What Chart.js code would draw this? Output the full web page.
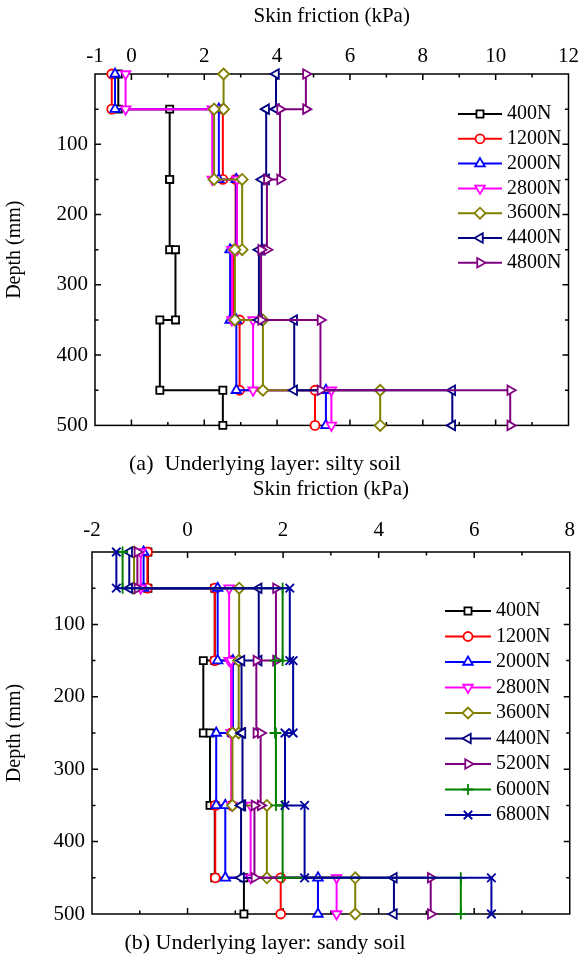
<!doctype html>
<html lang="en">
<head>
<meta charset="utf-8">
<title>Skin friction profiles</title>
<script src="https://cdn.jsdelivr.net/npm/chart.js"></script>
<style>
  body { margin: 0; background: #fff; width: 584px; height: 970px; position: relative; overflow: hidden; }
  canvas { position: absolute; left: 0; }
  #chartA { top: 0; }
  #chartB { top: 470px; }
  .caption { position: absolute; left: 0; width: 530px; text-align: center; color: #000;
             font-family: 'Liberation Serif', 'Times New Roman', serif; font-size: 22px; line-height: 22px; }
</style>
</head>
<body>
<canvas id="chartA" width="584" height="445"></canvas>
<canvas id="chartB" width="584" height="500"></canvas>
<div class="caption" style="top:452px">(a)&nbsp; Underlying layer: silty soil</div>
<div class="caption" style="top:931px">(b) Underlying layer: sandy soil</div>

<script>
  Chart.defaults.font.family = "'Liberation Serif', 'Times New Roman', serif";
  Chart.defaults.color = '#000';

  // depth intervals (mm) of the measured layers
  const depthTop    = [0, 50, 150, 250, 350, 450];
  const depthBottom = [50, 150, 250, 350, 450, 500];

  // (a) silty soil, skin friction (kPa) per layer
  const loadsSilty = ['400N', '1200N', '2000N', '2800N', '3600N', '4400N', '4800N'];
  const silty400N  = [-0.36, 1.05, 1.05, 1.21, 0.78, 2.51];
  const silty1200N = [-0.54, 2.51, 2.86, 2.80, 2.97, 5.04];
  const silty2000N = [-0.45, 2.40, 2.88, 2.71, 2.88, 5.34];
  const silty2800N = [-0.16, 2.22, 2.90, 2.76, 3.34, 5.49];
  const silty3600N = [2.53, 2.27, 3.04, 2.84, 3.61, 6.83];
  const silty4400N = [3.97, 3.70, 3.58, 3.50, 4.47, 8.81];
  const silty4800N = [4.79, 4.08, 3.72, 3.56, 5.19, 10.40];

  // (b) sandy soil
  const loadsSandy = ['400N', '1200N', '2000N', '2800N', '3600N', '4400N', '5200N', '6000N', '6800N'];
  const sandy400N  = [-0.83, 0.57, 0.33, 0.47, 0.57, 1.18];
  const sandy1200N = [-0.84, 0.57, 0.92, 0.92, 0.58, 1.95];
  const sandy2000N = [-0.92, 0.63, 0.95, 0.60, 0.79, 2.73];
  const sandy2800N = [-0.98, 0.87, 0.91, 0.93, 1.32, 3.12];
  const sandy3600N = [-1.12, 1.08, 1.07, 0.94, 1.66, 3.51];
  const sandy4400N = [-1.22, 1.49, 1.13, 1.15, 1.12, 4.32];
  const sandy5200N = [-1.05, 1.85, 1.44, 1.53, 1.40, 5.09];
  const sandy6000N = [-1.36, 1.99, 1.83, 1.85, 1.99, 5.72];
  const sandy6800N = [-1.49, 2.14, 2.21, 2.04, 2.45, 6.36];

  const xTicksSilty = [-1, 0, 2, 4, 6, 8, 10, 12];
  const xTicksSandy = [-2, 0, 2, 4, 6, 8];
  const depthTicks  = [100, 200, 300, 400, 500];

  // marker + colour per load
  const seriesStyle = {
    '400N':  { color: '#000000', pointStyle: 'rect',     rotation: 0,   radius: 5 },
    '1200N': { color: '#ff0000', pointStyle: 'circle',   rotation: 0,   radius: 4.5 },
    '2000N': { color: '#0000ff', pointStyle: 'triangle', rotation: 0,   radius: 5.5 },
    '2800N': { color: '#ff00ff', pointStyle: 'triangle', rotation: 180, radius: 5.5 },
    '3600N': { color: '#808000', pointStyle: 'rectRot',  rotation: 0,   radius: 5.5 },
    '4400N': { color: '#000080', pointStyle: 'triangle', rotation: 270, radius: 5.5 },
    '4800N': { color: '#800080', pointStyle: 'triangle', rotation: 90,  radius: 5.5 },
    '5200N': { color: '#800080', pointStyle: 'triangle', rotation: 90,  radius: 5.5 },
    '6000N': { color: '#008000', pointStyle: 'cross',    rotation: 0,   radius: 5.5 },
    '6800N': { color: '#0000a0', pointStyle: 'crossRot', rotation: 0,   radius: 6 }
  };

  // turn per-layer values into a stepped depth profile
  function profile(values) {
    const pts = [];
    for (let i = 0; i < values.length; i++) {
      pts.push({ x: values[i], y: depthTop[i] });
      pts.push({ x: values[i], y: depthBottom[i] });
    }
    return pts;
  }

  function makeDatasets(loads, series) {
    return loads.map((name, i) => {
      const s = seriesStyle[name];
      return {
        label: name,
        data: profile(series[i]),
        showLine: true,
        borderColor: s.color,
        backgroundColor: s.color,
        borderWidth: 2,
        pointStyle: s.pointStyle,
        pointRotation: s.rotation,
        pointRadius: s.radius,
        pointBorderWidth: 1.8,
        pointBorderColor: s.color,
        pointBackgroundColor: '#ffffff',
        order: loads.length - i,   // later loads drawn on top
        clip: false
      };
    });
  }

  // box frame with inward ticks on all four sides
  const frameTicks = {
    id: 'frameTicks',
    beforeDatasetsDraw(chart, args, opts) {
      const { ctx, chartArea: a, scales } = chart;
      const xs = scales.x, ys = scales.y;
      const major = (v, step) => Math.abs(v / step - Math.round(v / step)) < 1e-6;
      ctx.save();
      ctx.strokeStyle = '#000';
      ctx.lineWidth = 1.5;
      ctx.strokeRect(a.left, a.top, a.right - a.left, a.bottom - a.top);
      ctx.beginPath();
      for (let v = xs.min + opts.xStep; v < xs.max - 1e-6; v += opts.xStep) {
        const px = xs.getPixelForValue(v);
        const len = major(v, opts.xMajor) ? 6 : 3.5;
        ctx.moveTo(px, a.top); ctx.lineTo(px, a.top + len);
        ctx.moveTo(px, a.bottom); ctx.lineTo(px, a.bottom - len);
      }
      for (let v = opts.yStep; v < 500; v += opts.yStep) {
        const py = ys.getPixelForValue(v);
        const len = major(v, opts.yMajor) ? 6 : 3.5;
        ctx.moveTo(a.left, py); ctx.lineTo(a.left + len, py);
        ctx.moveTo(a.right, py); ctx.lineTo(a.right - len, py);
      }
      ctx.stroke();
      ctx.restore();
    }
  };

  // legend with line + marker sample, placed inside the plot
  const seriesKey = {
    id: 'seriesKey',
    afterDatasetsDraw(chart, args, opts) {
      const ctx = chart.ctx;
      ctx.save();
      ctx.font = opts.font;
      ctx.textBaseline = 'middle';
      chart.data.datasets.forEach((ds, i) => {
        const y = opts.top + i * opts.gap;
        const x0 = opts.left, x1 = opts.left + opts.lineLength;
        ctx.strokeStyle = ds.borderColor;
        ctx.lineWidth = ds.borderWidth;
        ctx.beginPath(); ctx.moveTo(x0, y); ctx.lineTo(x1, y); ctx.stroke();
        ctx.fillStyle = ds.pointBackgroundColor;
        ctx.lineWidth = ds.pointBorderWidth;
        Chart.helpers.drawPoint(ctx, {
          pointStyle: ds.pointStyle, rotation: ds.pointRotation,
          radius: ds.pointRadius, borderWidth: ds.pointBorderWidth
        }, (x0 + x1) / 2, y);
        ctx.fillStyle = '#000';
        ctx.fillText(ds.label, x1 + opts.textGap, y);
      });
      ctx.restore();
    }
  };

  function buildChart(canvasId, loads, series, cfg) {
    return new Chart(document.getElementById(canvasId), {
      type: 'scatter',
      data: { datasets: makeDatasets(loads, series) },
      options: {
        responsive: false,
        animation: false,
        layout: { padding: cfg.padding },
        plugins: {
          legend: { display: false },
          tooltip: { enabled: false },
          frameTicks: { xStep: 1, xMajor: 2, yStep: 50, yMajor: 100 },
          seriesKey: cfg.key
        },
        scales: {
          x: {
            type: 'linear', position: 'top', min: cfg.xMin, max: cfg.xMax,
            afterBuildTicks: s => { s.ticks = cfg.xTicks.map(v => ({ value: v })); },
            afterFit: s => { s.height = cfg.xAxisHeight; },
            grid: { display: false, drawTicks: false },
            border: { display: false },
            ticks: { font: { size: 21 }, padding: cfg.xTickPad, maxRotation: 0, autoSkip: false,
                     callback: v => String(v) },
            title: { display: true, text: 'Skin friction (kPa)', font: { size: 21 },
                     padding: { top: cfg.titlePad, bottom: 0 } }
          },
          y: {
            type: 'linear', position: 'left', reverse: true, min: 0, max: 500,
            afterBuildTicks: s => { s.ticks = depthTicks.map(v => ({ value: v })); },
            afterFit: s => { s.width = cfg.yAxisWidth; },
            grid: { display: false, drawTicks: false },
            border: { display: false },
            ticks: { font: { size: 21 }, padding: 7, autoSkip: false },
            title: { display: true, text: 'Depth (mm)', font: { size: 20 },
                     padding: { top: 3, bottom: 0 } }
          }
        }
      },
      plugins: [frameTicks, seriesKey]
    });
  }

  buildChart('chartA', loadsSilty,
    [silty400N, silty1200N, silty2000N, silty2800N, silty3600N, silty4400N, silty4800N], {
      xMin: -1, xMax: 12, xTicks: xTicksSilty,
      padding: { left: 0, top: 0, right: 14, bottom: 17 },
      xAxisHeight: 74, yAxisWidth: 95, xTickPad: 5, titlePad: 4,
      key: { left: 458, top: 114, gap: 24.8, lineLength: 44, textGap: 5, font: "20px 'Liberation Serif'" }
    });

  buildChart('chartB', loadsSandy,
    [sandy400N, sandy1200N, sandy2000N, sandy2800N, sandy3600N, sandy4400N, sandy5200N, sandy6000N, sandy6800N], {
      xMin: -2, xMax: 8, xTicks: xTicksSandy,
      padding: { left: 0, top: 0, right: 6, bottom: 56 },
      xAxisHeight: 82, yAxisWidth: 92, xTickPad: 9, titlePad: 7,
      key: { left: 445, top: 141, gap: 25.5, lineLength: 46, textGap: 5, font: "20px 'Liberation Serif'" }
    });
</script>
</body>
</html>
